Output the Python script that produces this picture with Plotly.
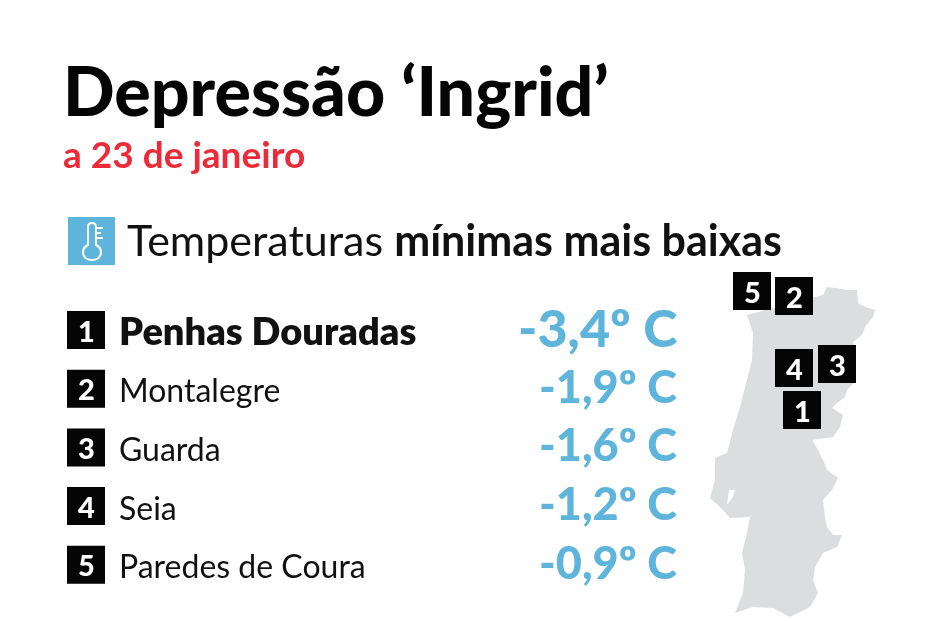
import plotly.graph_objects as go

FONT = "Lato"
BLUE = "#5fb4dc"
RED = "#ed2a38"
GREY = "#dcddde"

title = "Depressão ‘Ingrid’"
subtitle = "a 23 de janeiro"
heading_light = "Temperaturas "
heading_bold = "mínimas mais baixas"

ranks = [1, 2, 3, 4, 5]
stations = ["Penhas Douradas", "Montalegre", "Guarda", "Seia", "Paredes de Coura"]
temps = [-3.4, -1.9, -1.6, -1.2, -0.9]

# badge positions on the map, picture pixels
map_ranks = [5, 2, 4, 3, 1]
map_x = [752, 794, 794, 837, 802]
map_y = [291, 296, 368, 364, 410]

# outline of Portugal, picture pixels
outline_x = [747, 813, 823, 827, 837, 847, 857, 858, 865, 875, 873, 865, 862, 853, 855, 855,
             847, 845, 837, 832, 843, 840, 833, 812, 818, 823, 827, 838, 832, 823, 825, 827,
             833, 842, 837, 823, 815, 813, 818, 810, 790, 773, 753, 735, 743, 745, 742, 747,
             750, 730, 723, 710, 715, 715, 727, 733, 740, 752, 753, 747]
outline_y = [315, 297, 295, 287, 288, 290, 290, 303, 307, 310, 317, 327, 335, 342, 347, 382,
             390, 397, 403, 408, 415, 427, 437, 440, 450, 460, 470, 478, 490, 500, 517, 527,
             535, 535, 547, 553, 567, 580, 593, 607, 617, 608, 607, 613, 593, 570, 553, 533,
             517, 518, 510, 498, 480, 458, 453, 430, 407, 360, 333, 315]
estuary_x = [729, 735, 733, 727, 729]
estuary_y = [490, 490, 497, 505, 490]

row_top = 330
row_step = 58.7

fig = go.Figure()

fig.add_trace(go.Scatter(x=outline_x, y=outline_y, mode="lines", fill="toself",
                         fillcolor=GREY, line=dict(color=GREY, width=0), hoverinfo="skip"))
fig.add_trace(go.Scatter(x=estuary_x, y=estuary_y, mode="lines", fill="toself",
                         fillcolor="white", line=dict(color="white", width=0), hoverinfo="skip"))

# badges, list and map
row_y = [row_top + row_step * i for i in range(len(ranks))]
badge_x = [86] * len(ranks) + map_x
badge_y = row_y + map_y
badge_labels = ranks + map_ranks
fig.add_trace(go.Scatter(
    x=badge_x, y=badge_y, mode="markers",
    marker=dict(symbol="square", size=38, color="#050505", line=dict(width=0)),
    hoverinfo="skip",
))
for bx, by, label in zip(badge_x, badge_y, badge_labels):
    fig.add_annotation(x=bx, y=by, text=str(label), showarrow=False,
                       xanchor="center", yanchor="middle",
                       font=dict(family=FONT, size=29, color="white", weight=900))

# station names
for i, name in enumerate(stations):
    fig.add_annotation(x=117, y=row_y[i] + (0 if i == 0 else 1), text=name, xanchor="left",
                       yanchor="middle", showarrow=False,
                       font=dict(family=FONT, size=38 if i == 0 else 32, color="#111111",
                                 weight=800 if i == 0 else 400))

# temperatures
for i, t in enumerate(temps):
    label = f"{t:.1f}".replace(".", ",") + "º C"
    fig.add_annotation(x=679, y=row_y[i] - 3, text=label, xanchor="right", yanchor="middle",
                       showarrow=False,
                       font=dict(family=FONT, size=52 if i == 0 else 45, color=BLUE, weight=900))

# titles
fig.add_annotation(x=61, y=89, text=title, xanchor="left", yanchor="middle", showarrow=False,
                   font=dict(family=FONT, size=68, color="#050505", weight=900))
fig.add_annotation(x=61, y=153, text=subtitle, xanchor="left", yanchor="middle", showarrow=False,
                   font=dict(family=FONT, size=37, color=RED, weight=700))
fig.add_annotation(x=125, y=239, text=f"{heading_light}<b>{heading_bold}</b>", xanchor="left",
                   yanchor="middle", showarrow=False,
                   font=dict(family=FONT, size=43, color="#111111"))

# thermometer icon
fig.add_shape(type="rect", x0=68, x1=115, y0=217, y1=265, fillcolor=BLUE, line_width=0)
fig.add_shape(type="path",
              path="M 88 245 L 88 227 Q 88 223 92 223 Q 96 223 96 227 L 96 245 "
                   "C 104 249 102 260 92 260 C 82 260 80 249 88 245 Z",
              fillcolor="rgba(0,0,0,0)", line=dict(color="white", width=2))
for tick_y, tick_x in zip([228, 233, 238], [103, 101, 103]):
    fig.add_shape(type="line", x0=96, x1=tick_x, y0=tick_y, y1=tick_y,
                  line=dict(color="white", width=2))

fig.update_layout(
    width=932, height=621,
    margin=dict(l=0, r=0, t=0, b=0),
    paper_bgcolor="white", plot_bgcolor="white",
    showlegend=False,
    xaxis=dict(range=[0, 932], visible=False, fixedrange=True),
    yaxis=dict(range=[621, 0], visible=False, fixedrange=True),
)

# the reference is a soft upscaled image, so soften the plot slightly
fig.write_html("out.html", config={"displayModeBar": False},
               post_script="document.body.style.margin='0';document.body.style.overflow='hidden';"
                           "document.getElementById('{plot_id}').style.filter='blur(0.7px)';")
